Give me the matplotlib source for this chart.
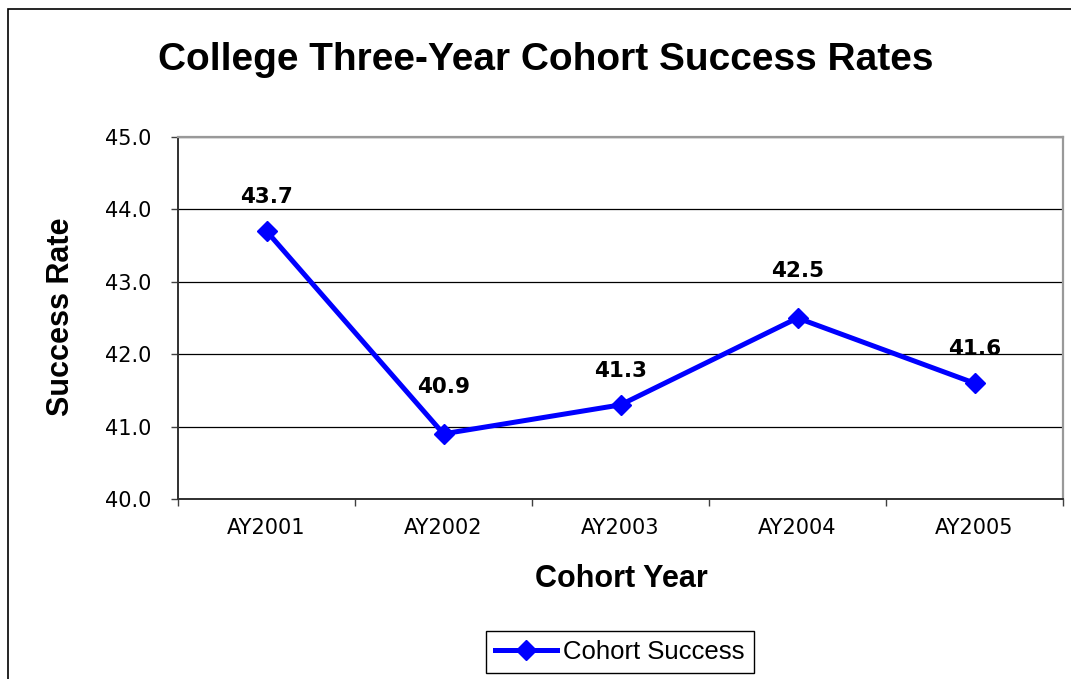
import matplotlib
matplotlib.use("Agg")
import matplotlib.pyplot as plt
from matplotlib.patches import Rectangle

# ---- data ----
categories = ["AY2001", "AY2002", "AY2003", "AY2004", "AY2005"]
success_rates = [43.7, 40.9, 41.3, 42.5, 41.6]
series_name = "Cohort Success"
y_ticks = [40.0, 41.0, 42.0, 43.0, 44.0, 45.0]
title = "College Three-Year Cohort Success Rates"
x_label = "Cohort Year"
y_label = "Success Rate"
label_offsets_pt = [20, 29.5, 20, 29.5, 20]

W, H = 1071, 679
fig = plt.figure(figsize=(W / 100, H / 100), dpi=100)
fig.patch.set_facecolor("white")

# outer chart border (runs off right/bottom edge)
fig.patches.append(Rectangle((8 / W, -0.05), 1.2, 1 - 9 / H + 0.05,
                             transform=fig.transFigure, fill=False,
                             edgecolor="black", linewidth=1.2))

ax = fig.add_axes([178 / W, 1 - 499 / H, (1063 - 178) / W, (499 - 137) / H])
x = list(range(len(categories)))
line, = ax.plot(x, success_rates, color="#0000FF", linewidth=3.6,
                marker="D", markersize=10.5, markeredgecolor="#0000FF",
                label=series_name, zorder=5, clip_on=False)

ax.set_xlim(-0.5, len(categories) - 0.5)
ax.set_ylim(y_ticks[0], y_ticks[-1])
ax.set_yticks(y_ticks)
ax.set_yticklabels([f"{v:.1f}" for v in y_ticks])
ax.set_xticks(x)
ax.set_xticklabels(categories)
ax.set_xticks([i - 0.5 for i in range(len(categories) + 1)], minor=True)

ax.grid(axis="y", color="black", linewidth=0.9, zorder=1)
ax.set_axisbelow(True)

ax.tick_params(axis="x", which="major", length=0, pad=14,
               labelsize=15, labelcolor="black")
ax.tick_params(axis="x", which="minor", length=5, width=1, direction="out",
               color="#404040")
ax.tick_params(axis="y", which="major", length=5, width=1, direction="out",
               pad=14, labelsize=15, labelcolor="black", color="#404040")
for lbl in ax.get_xticklabels() + ax.get_yticklabels():
    lbl.set_fontfamily("DejaVu Sans")

for side in ("left", "bottom"):
    ax.spines[side].set_color("#303030")
    ax.spines[side].set_linewidth(1.4)
for side in ("top", "right"):
    ax.spines[side].set_color("#999999")
    ax.spines[side].set_linewidth(1.6)

for xi, yi, off in zip(x, success_rates, label_offsets_pt):
    ax.annotate(f"{yi:.1f}", (xi, yi), xytext=(0, off),
                textcoords="offset points", ha="center", va="baseline",
                fontsize=15.5, fontweight="bold", family="DejaVu Sans",
                color="black", zorder=6)

fig.text(546 / W, 1 - 70 / H, title, ha="center", va="baseline",
         fontsize=28, fontweight="bold", family="Liberation Sans")
fig.text(621 / W, 1 - 587 / H, x_label, ha="center", va="baseline",
         fontsize=22, fontweight="bold", family="Liberation Sans")
fig.text(69 / W, 1 - 316.5 / H, y_label, ha="center", va="baseline",
         rotation=90, rotation_mode="anchor",
         fontsize=22, fontweight="bold", family="Liberation Sans")

leg = fig.legend(handles=[line], labels=[series_name], loc="center",
                 bbox_to_anchor=(620 / W, 1 - 652 / H), frameon=True,
                 fancybox=False, edgecolor="black", framealpha=1,
                 prop={"family": "Liberation Sans", "size": 18.5},
                 handlelength=2.4, handletextpad=0.25, borderpad=0.35,
                 borderaxespad=0, numpoints=1)
leg.get_frame().set_linewidth(1.0)

fig.savefig("out.png", dpi=100, facecolor="white")
